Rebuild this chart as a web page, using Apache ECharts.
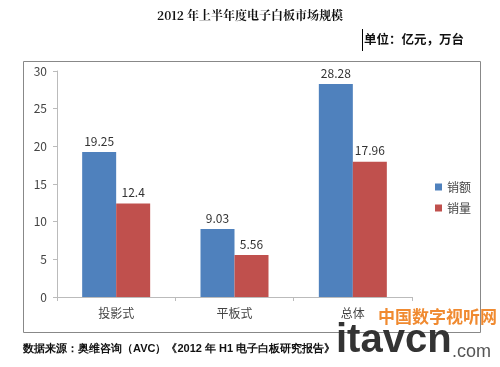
<!DOCTYPE html>
<html><head><meta charset="utf-8">
<script src="https://cdn.jsdelivr.net/npm/echarts@6/dist/echarts.min.js"></script>
<style>html,body{margin:0;padding:0;background:#fff}#c{width:500px;height:367px}</style>
</head><body><div id="c"></div>
<script>
var categories = ['投影式', '平板式', '总体'];
var salesValue = [19.25, 9.03, 28.28];
var salesVolume = [12.4, 5.56, 17.96];
var seriesNames = ['销额', '销量'];
var yTicks = [0, 5, 10, 15, 20, 25, 30];

var chart = echarts.init(document.getElementById('c'));
var font = '"Noto Sans CJK SC", "Noto Sans", sans-serif';
chart.setOption({
  backgroundColor: '#fff',
  animation: false,
  textStyle: {fontFamily: font},
  title: [{
    text: '2012 年上半年度电子白板市场规模',
    left: 'center', top: 4,
    textStyle: {fontSize: 12, fontWeight: 'bold', color: '#111', fontFamily: '"Noto Serif CJK SC", "Noto Sans CJK SC", serif'}
  }, {
    text: '单位：亿元，万台',
    left: 364, top: 33, padding: 0,
    textStyle: {fontSize: 12.5, fontWeight: 'bold', color: '#111', fontFamily: font}
  }],
  legend: {
    orient: 'vertical', left: 430, top: 176,
    itemWidth: 7, itemHeight: 7, itemGap: 9,
    icon: 'rect',
    textStyle: {fontSize: 12, color: '#444'},
    data: seriesNames
  },
  grid: {left: 57, right: 88, top: 71, bottom: 70, containLabel: false},
  xAxis: {
    type: 'category', data: categories,
    axisLine: {lineStyle: {color: '#bbb'}},
    axisTick: {show: true, length: 4, lineStyle: {color: '#bbb'}},
    axisLabel: {color: '#444', fontSize: 12, margin: 10}
  },
  yAxis: {
    type: 'value', min: 0, max: 30, interval: 5,
    axisLine: {show: true, lineStyle: {color: '#bbb'}},
    axisTick: {show: true, length: 4, inside: false, lineStyle: {color: '#bbb'}},
    splitLine: {show: false},
    axisLabel: {color: '#444', fontSize: 12, margin: 10,
      formatter: function (v) { return yTicks.indexOf(v) >= 0 ? String(v) : ''; }}
  },
  series: [{
    name: seriesNames[0], type: 'bar', data: salesValue,
    barWidth: 34, barGap: '0%',
    itemStyle: {color: '#4f81bd'},
    label: {show: true, position: 'top', color: '#333', fontSize: 12, distance: 5}
  }, {
    name: seriesNames[1], type: 'bar', data: salesVolume,
    barWidth: 34, barGap: '0%',
    itemStyle: {color: '#c0504d'},
    label: {show: true, position: 'top', color: '#333', fontSize: 12, distance: 5}
  }],
  graphic: [
    {type: 'rect', shape: {x: 23.5, y: 61.5, width: 457, height: 271}, style: {fill: 'none', stroke: '#888', lineWidth: 1}, silent: true},
    {type: 'line', shape: {x1: 362.5, y1: 29, x2: 362.5, y2: 51}, style: {stroke: '#000', lineWidth: 1}},
    {type: 'text', left: 23, top: 343, style: {text: '数据来源：奥维咨询（AVC）《2012 年 H1 电子白板研究报告》', fontSize: 11, fontWeight: 'bold', fill: '#111', font: 'bold 11px ' + font}},
    {type: 'text', left: 378, top: 308, style: {text: '中国数字视听网', font: 'bold 17px ' + font, fill: '#f08a30'}},
    {type: 'text', left: 336, top: 321, style: {text: 'itavcn', font: 'bold 40px "Liberation Sans", Arial, sans-serif', fill: '#333'}},
    {type: 'text', left: 452, top: 343, style: {text: '.com', font: '18px "Liberation Sans", Arial, sans-serif', fill: '#555'}}
  ]
});
</script></body></html>
